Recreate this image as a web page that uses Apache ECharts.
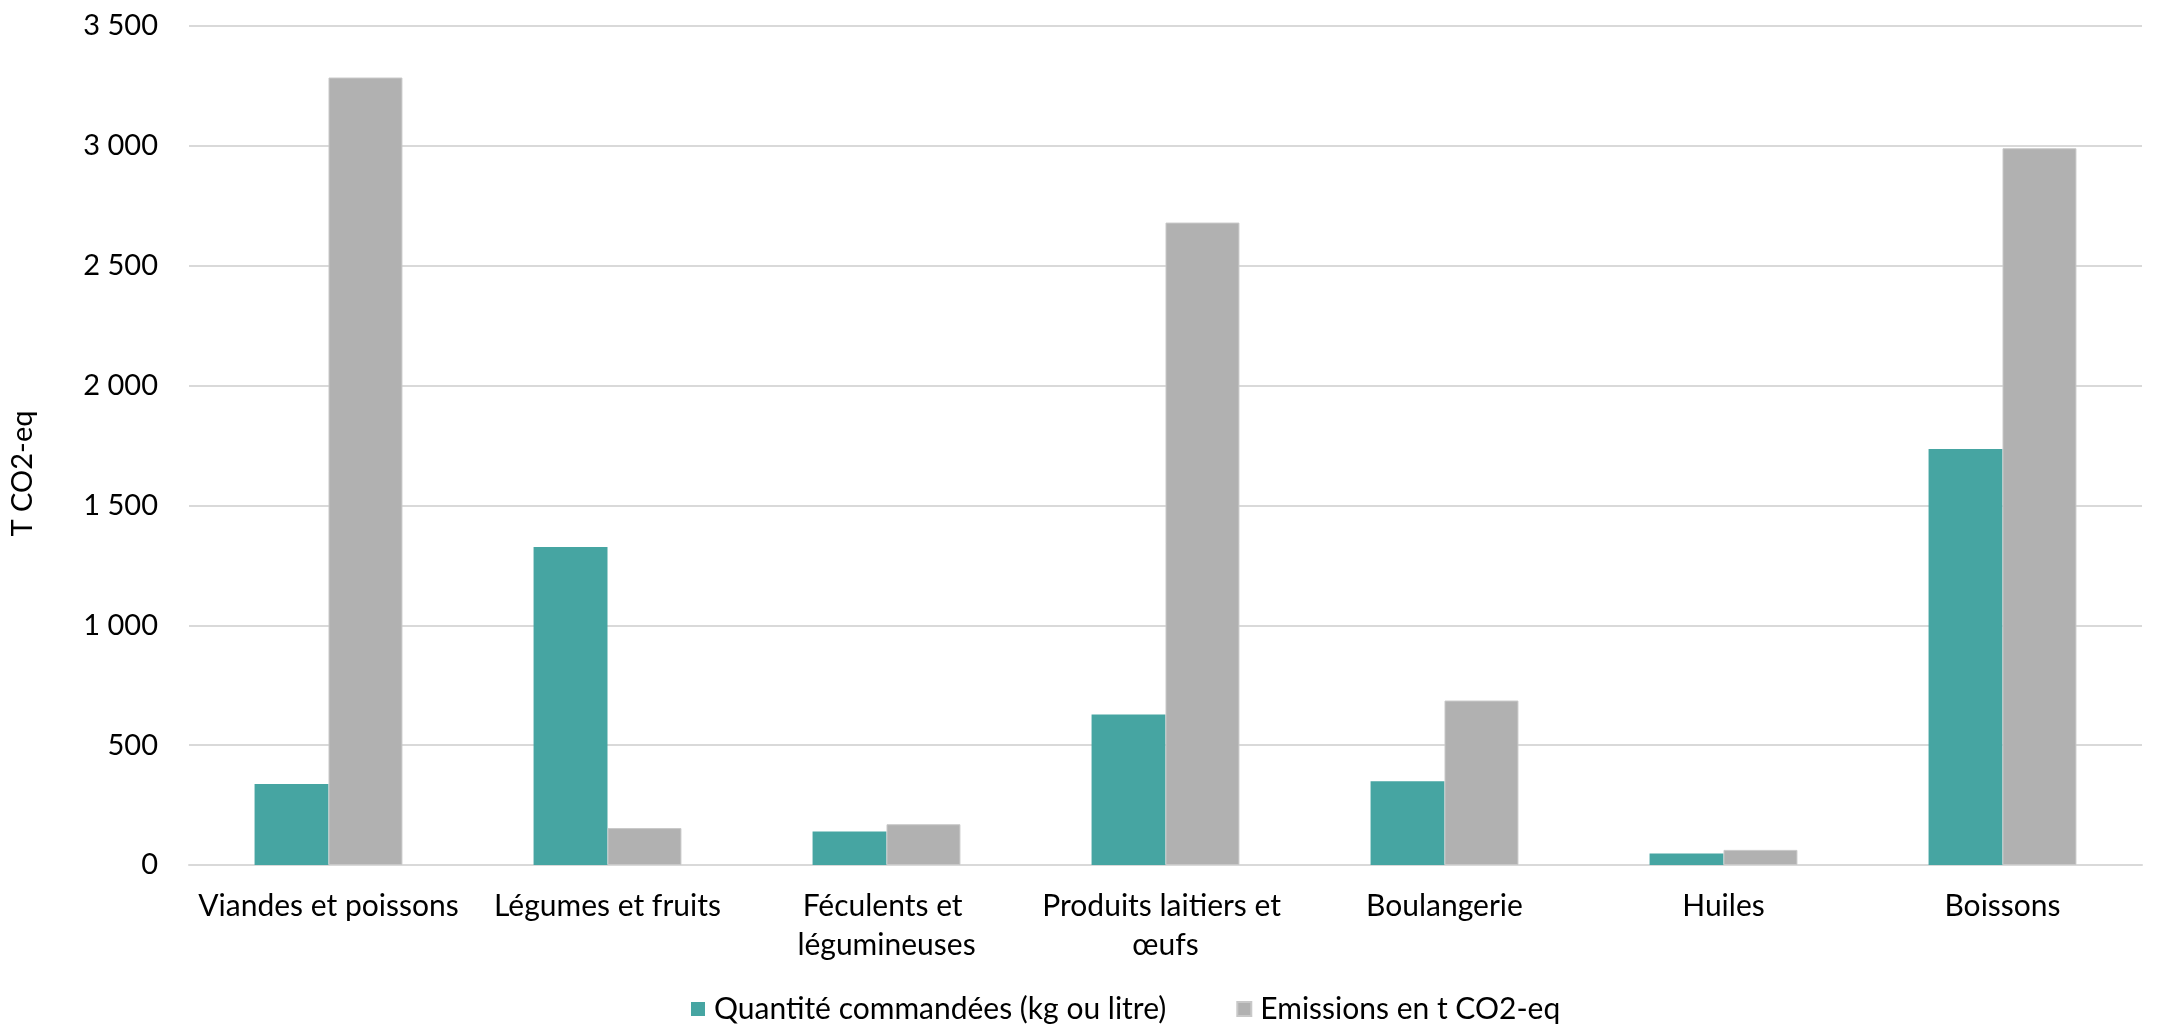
<!DOCTYPE html>
<html>
<head>
<meta charset="utf-8">
<script src="https://cdn.jsdelivr.net/npm/echarts@6/dist/echarts.min.js"></script>
<style>
  html, body { margin: 0; padding: 0; background: #ffffff; }
  #chart { width: 2167px; height: 1025px; }
</style>
</head>
<body>
<div id="chart"></div>
<script>
// Food categories and their two measures
const categories = [
  'Viandes et poissons',
  'Légumes et fruits',
  'Féculents et légumineuses',
  'Produits laitiers et œufs',
  'Boulangerie',
  'Huiles',
  'Boissons'
];
const quantites = [338, 1327, 140, 628, 349, 48, 1735];
const emissions = [3285, 154, 170, 2680, 686, 63, 2990];
const seriesNames = ['Quantité commandées (kg ou litre)', 'Emissions en t CO2-eq'];
const axisTitle = 'T CO2-eq';

const FONT = 'Lato';
const TEXT = '#000000';

function spaced(v) {
  return String(v).replace(/\B(?=(\d{3})+(?!\d))/g, ' ');
}

const chart = echarts.init(document.getElementById('chart'), null, { renderer: 'canvas' });

chart.setOption({
  animation: false,
  backgroundColor: '#ffffff',
  textStyle: { fontFamily: FONT, color: TEXT },
  grid: { left: 186, right: 25, top: 26, bottom: 160, containLabel: false },
  legend: {
    left: 686,
    top: 989,
    itemWidth: 14,
    itemHeight: 14,
    itemGap: 70,
    icon: 'rect',
    textStyle: { fontFamily: FONT, fontSize: 30, color: TEXT, padding: [0, 0, 0, 4] },
    data: seriesNames
  },
  xAxis: {
    type: 'category',
    data: categories,
    axisLine: { show: true, lineStyle: { color: '#d9d9d9', width: 2 } },
    axisTick: { show: false },
    axisLabel: {
      interval: 0,
      margin: 22,
      fontFamily: FONT,
      fontSize: 30,
      color: TEXT,
      lineHeight: 39,
      width: 270,
      overflow: 'break'
    }
  },
  yAxis: {
    type: 'value',
    min: 0,
    max: 3500,
    interval: 500,
    name: axisTitle,
    nameLocation: 'middle',
    nameRotate: 90,
    nameGap: 152,
    nameTextStyle: { fontFamily: FONT, fontSize: 29, color: TEXT, padding: [0, 56, 0, 0] },
    axisLine: { show: false },
    axisTick: { show: false },
    splitLine: { lineStyle: { color: '#d9d9d9', width: 2 } },
    axisLabel: {
      margin: 31,
      fontFamily: FONT,
      fontSize: 29,
      color: TEXT,
      formatter: spaced
    }
  },
  series: [
    {
      name: seriesNames[0],
      type: 'bar',
      data: quantites,
      barWidth: '26.5%',
      barGap: '0%',
      itemStyle: { color: '#46a5a2' }
    },
    {
      name: seriesNames[1],
      type: 'bar',
      data: emissions,
      barWidth: '26.5%',
      barGap: '0%',
      itemStyle: { color: '#b1b1b1', borderColor: '#c8c8c8', borderWidth: 1 }
    }
  ]
});
</script>
</body>
</html>
